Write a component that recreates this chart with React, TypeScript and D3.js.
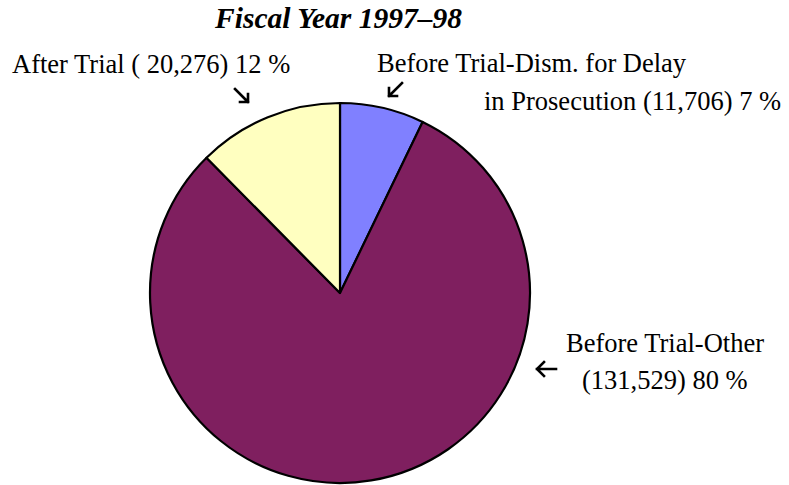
import React from "react";
import * as d3 from "d3";

const title = "Fiscal Year 1997–98";
const categories = ["Before Trial-Dism. for Delay in Prosecution", "Before Trial-Other", "After Trial"];
const values = [11706, 131529, 20276];
const colors = ["#8080FF", "#7F1F5F", "#FFFFC0"];
const labelLines = [
  ["Before Trial-Dism. for Delay", "in Prosecution (11,706) 7 %"],
  ["Before Trial-Other", "(131,529) 80 %"],
  ["After Trial ( 20,276) 12 %"],
];

const W = 789;
const H = 485;
const cx = 340;
const cy = 293;
const R = 190;
const font = "'Liberation Serif', 'Times New Roman', serif";

export default function App() {
  const pie = d3.pie<number>().sort(null).value((d) => d)(values);
  const arc = d3.arc<d3.PieArcDatum<number>>().innerRadius(0).outerRadius(R);
  const fs = 26.5;
  return (
    <svg width={W} height={H} style={{ position: "absolute", left: 0, top: 0 }}>
      <rect width={W} height={H} fill="#fff" />
      <text x={338.5} y={28} textAnchor="middle" fontFamily={font} fontWeight="bold" fontStyle="italic" fontSize={29.5}>
        {title}
      </text>
      <g transform={`translate(${cx},${cy})`}>
        {pie.map((p, i) => (
          <path key={categories[i]} d={arc(p) || ""} fill={colors[i]} stroke="#000" strokeWidth={2.2} strokeLinejoin="round" />
        ))}
      </g>
      <g fontFamily={font} fontSize={fs} fill="#000">
        <text x={377} y={72}>{labelLines[0][0]}</text>
        <text x={484} y={110}>{labelLines[0][1]}</text>
        <text x={566} y={352}>{labelLines[1][0]}</text>
        <text x={582} y={389}>{labelLines[1][1]}</text>
        <text x={12} y={73}>{labelLines[2][0]}</text>
      </g>
      <g stroke="#000" strokeWidth={2.6} fill="none" strokeLinecap="square">
        <path d="M235,89 L248,102 M240,102 L248,102 L248,94" />
        <path d="M402,83 L389,96 M397,96 L389,96 L389,88" />
        <path d="M556,369 L537,369 M544,362 L537,369 L544,376" />
      </g>
    </svg>
  );
}
